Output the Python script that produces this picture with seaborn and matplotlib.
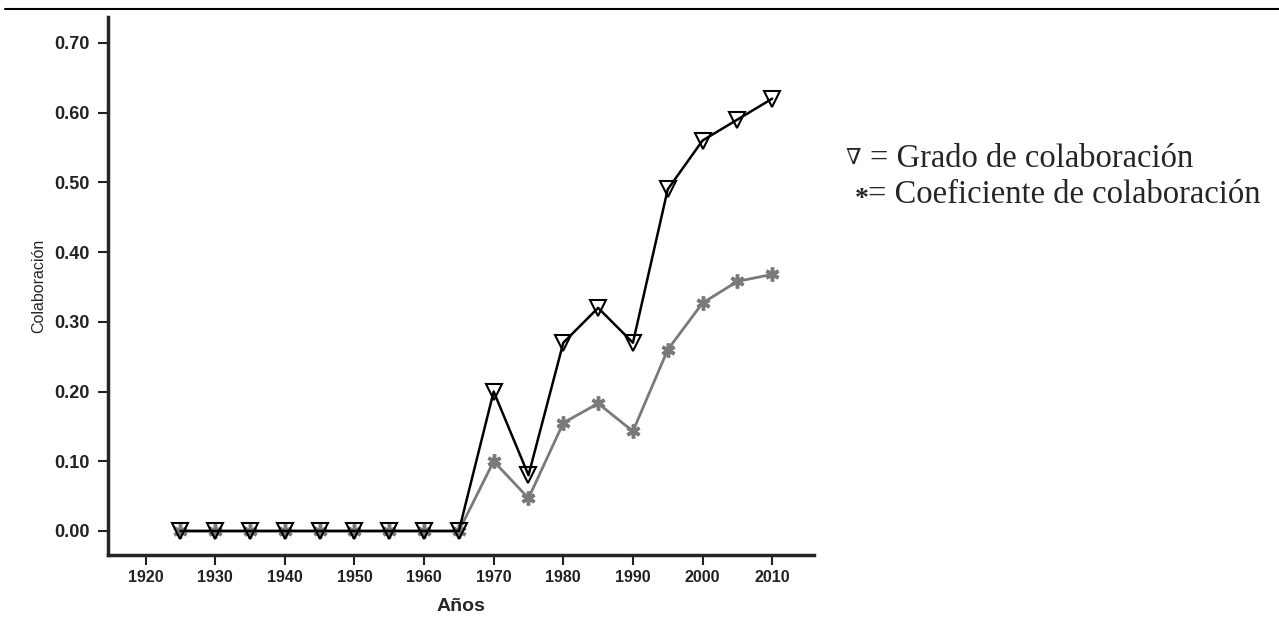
import matplotlib
matplotlib.use("Agg")
import matplotlib.pyplot as plt
import seaborn as sns
import pandas as pd
from matplotlib.lines import Line2D

years = [1925, 1930, 1935, 1940, 1945, 1950, 1955, 1960, 1965, 1970, 1975, 1980, 1985, 1990, 1995, 2000, 2005, 2010]
grado = [0, 0, 0, 0, 0, 0, 0, 0, 0, 0.20, 0.08, 0.27, 0.32, 0.27, 0.49, 0.56, 0.59, 0.62]
coef = [0, 0, 0, 0, 0, 0, 0, 0, 0, 0.10, 0.047, 0.155, 0.183, 0.143, 0.26, 0.327, 0.358, 0.368]
xticks = [1920, 1930, 1940, 1950, 1960, 1970, 1980, 1990, 2000, 2010]
yticks = [0.0, 0.1, 0.2, 0.3, 0.4, 0.5, 0.6, 0.7]

sns.set_style("ticks")
plt.rcParams['font.family'] = ['Liberation Sans', 'DejaVu Sans']

fig = plt.figure(figsize=(12.79, 6.24), dpi=100)
ax = fig.add_axes([0.0844, 0.1106, 0.552, 0.862])

df_c = pd.DataFrame({"year": years, "val": coef})
df_g = pd.DataFrame({"year": years, "val": grado})

sns.lineplot(data=df_c, x="year", y="val", ax=ax, color="#7a7a7a", lw=2,
             marker=(6, 2, 0), markersize=10, markeredgewidth=2.5,
             markeredgecolor="#7a7a7a", zorder=2)
sns.lineplot(data=df_g, x="year", y="val", ax=ax, color="black", lw=1.8,
             marker="v", markersize=12, markerfacecolor="none",
             markeredgecolor="black", markeredgewidth=1.5, zorder=3)

ax.set_xlim(1914.6, 2016)
ax.set_ylim(-0.0344, 0.737)
ax.set_xticks(xticks)
ax.set_yticks(yticks)
ax.set_xticklabels([str(t) for t in xticks], fontsize=11.5, fontweight="bold")
ax.set_yticklabels([f"{t:.2f}" for t in yticks], fontsize=13, fontweight="bold")
ax.set_xlabel("Años", fontsize=14, fontweight="bold", labelpad=10)
ax.set_ylabel("Colaboración", fontsize=11.5, labelpad=6)
for s in ["top", "right"]:
    ax.spines[s].set_visible(False)
for s in ["left", "bottom"]:
    ax.spines[s].set_linewidth(2.5)
ax.tick_params(axis="both", length=7, width=1.5, colors="#222222")
ax.tick_params(axis="y", pad=6)

fig.add_artist(Line2D([0.004, 1.0], [0.986, 0.986], color="black", lw=1.5, transform=fig.transFigure))

serif = ["Liberation Serif", "DejaVu Serif"]
fig.text(0.661, 0.745, "∇", fontsize=16, family=serif, va="center")
fig.text(0.680, 0.745, "= Grado de colaboración", fontsize=23.5, family=serif, va="center")
fig.text(0.668, 0.680, "*", fontsize=20, family=serif, va="center", fontweight="bold")
fig.text(0.679, 0.688, "= Coeficiente de colaboración", fontsize=23.5, family=serif, va="center")

fig.savefig("out.png", dpi=100)
